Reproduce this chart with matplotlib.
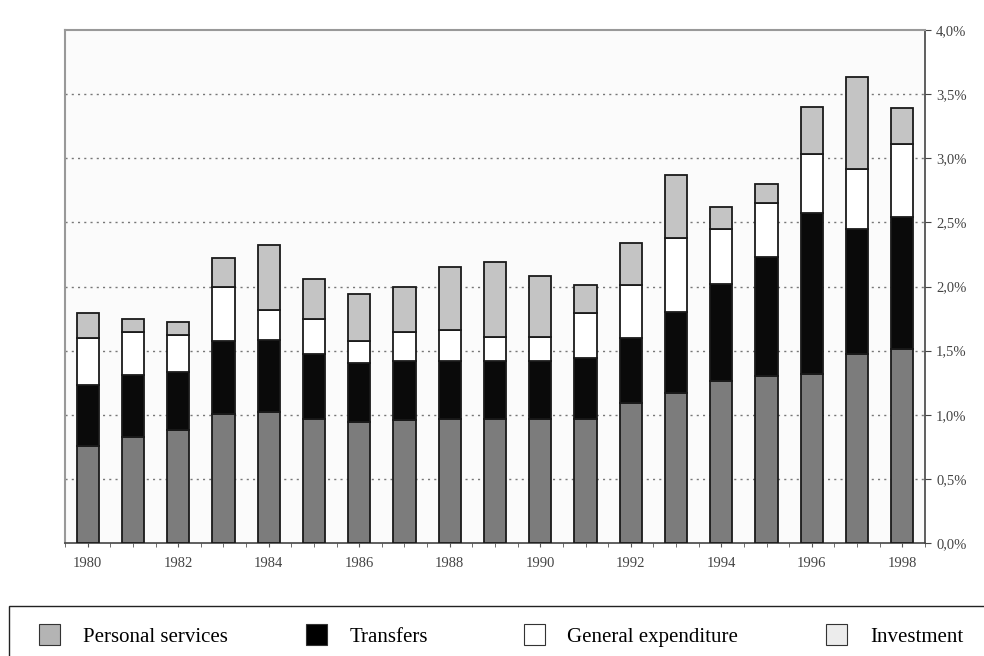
import numpy as np
import matplotlib
matplotlib.use('Agg')
import matplotlib.pyplot as plt
from matplotlib.patches import Rectangle
from matplotlib.ticker import FixedLocator

plt.rcParams['font.family'] = ['Liberation Serif', 'DejaVu Serif']

years = list(range(1980, 1999))
# shares in %
personal = [0.76, 0.83, 0.88, 1.005, 1.02, 0.97, 0.94, 0.96, 0.97, 0.97,
            0.97, 0.97, 1.09, 1.17, 1.26, 1.30, 1.32, 1.47, 1.51]
transfers = [0.47, 0.48, 0.45, 0.57, 0.56, 0.50, 0.46, 0.46, 0.45, 0.45,
             0.45, 0.47, 0.51, 0.63, 0.76, 0.93, 1.25, 0.98, 1.03]
general = [0.37, 0.335, 0.29, 0.425, 0.24, 0.28, 0.175, 0.225, 0.24, 0.19,
           0.19, 0.35, 0.41, 0.58, 0.43, 0.42, 0.46, 0.47, 0.57]
investment = [0.19, 0.105, 0.10, 0.22, 0.50, 0.31, 0.365, 0.355, 0.49, 0.58,
              0.47, 0.22, 0.33, 0.49, 0.17, 0.15, 0.37, 0.71, 0.28]
yticks = [0.0, 0.5, 1.0, 1.5, 2.0, 2.5, 3.0, 3.5, 4.0]
ylabels = ['0,0%', '0,5%', '1,0%', '1,5%', '2,0%', '2,5%', '3,0%', '3,5%', '4,0%']
labels = ['Personal services', 'Transfers', 'General expenditure', 'Investment']

fig = plt.figure(figsize=(9.84, 6.56), dpi=100)
ax = fig.add_axes([65/984, 1-543/656, 860/984, 513/656])
ax.set_facecolor('#fbfbfb')

x = np.array(years)
w = 0.49
b = np.zeros(len(years))
bar_cols = ['#7c7c7c', '#0a0a0a', '#ffffff', '#c4c4c4']
for vals, c in zip([personal, transfers, general, investment], bar_cols):
    ax.bar(x, vals, w, bottom=b, color=c, edgecolor='#1a1a1a', linewidth=1.3, zorder=3)
    b = b + np.array(vals)

ax.set_xlim(1979.5, 1998.5)
ax.set_ylim(0, 4.0)
ax.yaxis.tick_right()
ax.set_yticks(yticks)
ax.set_yticklabels(ylabels, fontsize=10.5, color='#444444')
ax.set_xticks(years[::2])
ax.set_xticklabels([str(y) for y in years[::2]], fontsize=10.5, color='#444444')
ax.xaxis.set_minor_locator(FixedLocator(np.arange(1979.5, 1999, 0.5)))
ax.tick_params(axis='x', which='both', length=3, direction='out', color='#555555')
ax.tick_params(axis='y', length=4, direction='out', color='#444444', pad=4)
ax.tick_params(axis='x', which='major', pad=7)

for v in yticks[1:-1]:
    ax.axhline(v, color='#777777', linestyle=(0, (1.5, 3)), linewidth=1.0, zorder=1)

for s in ['top', 'left']:
    ax.spines[s].set_color('#999999')
    ax.spines[s].set_linewidth(1.5)
for s in ['right', 'bottom']:
    ax.spines[s].set_color('#444444')
    ax.spines[s].set_linewidth(1.2)

# legend table below the chart
fig.patches.append(Rectangle((9/984, -0.02), 1.0, 1-606/656 + 0.02,
                             transform=fig.transFigure, fill=False,
                             edgecolor='#222222', linewidth=1.0))
leg_cols = ['#b4b4b4', '#000000', '#ffffff', '#ececec']
sq_x = [39, 306, 524, 826]
txt_x = [83, 350, 567, 870]
yc = 1 - 634/656
for lab, c, sx, tx in zip(labels, leg_cols, sq_x, txt_x):
    fig.patches.append(Rectangle((sx/984, yc - 10.5/656), 21/984, 21/656,
                                 transform=fig.transFigure, facecolor=c,
                                 edgecolor='#333333', linewidth=0.8))
    fig.text(tx/984, 1 - 642/656, lab, fontsize=15, va='baseline', ha='left')

fig.savefig('out.png', dpi=100)
